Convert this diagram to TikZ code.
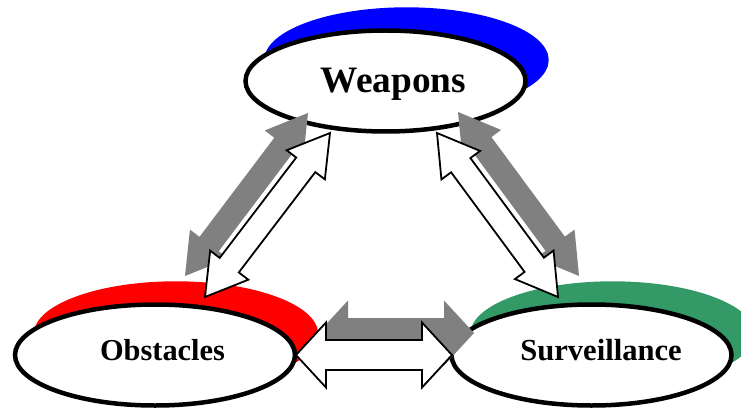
\documentclass[tikz,border=0pt]{standalone}
\usepackage{fontspec}
\setmainfont{Liberation Serif}
\usetikzlibrary{calc,shapes.geometric}
\definecolor{shblue}{RGB}{0,0,255}
\definecolor{shred}{RGB}{255,0,0}
\definecolor{shgreen}{RGB}{51,153,102}
\definecolor{arrgray}{RGB}{128,128,128}
% #1 start, #2 end, #3 head length, #4 head half width, #5 shaft half width, #6 style
\newcommand\dblarrow[6]{%
  \path[#6] let \p1=(#1), \p2=(#2),
    \n1={atan2(\y2-\y1,\x2-\x1)}, \n2={veclen(\x2-\x1,\y2-\y1)} in
    (\p1)
    -- ($(\p1)+(\n1:#3)+(\n1+90:#4)$)
    -- ($(\p1)+(\n1:#3)+(\n1+90:#5)$)
    -- ($(\p1)+(\n1:\n2-#3)+(\n1+90:#5)$)
    -- ($(\p1)+(\n1:\n2-#3)+(\n1+90:#4)$)
    -- (\p2)
    -- ($(\p1)+(\n1:\n2-#3)+(\n1-90:#4)$)
    -- ($(\p1)+(\n1:\n2-#3)+(\n1-90:#5)$)
    -- ($(\p1)+(\n1:#3)+(\n1-90:#5)$)
    -- ($(\p1)+(\n1:#3)+(\n1-90:#4)$)
    -- cycle;}
\begin{document}
\begin{tikzpicture}[x=1pt,y=1pt,
  oval/.style={ellipse, draw=black, line width=4.5pt, fill=white,
    minimum width=280pt, minimum height=101pt, inner sep=0pt},
  lbl/.style={inner sep=0pt, anchor=base, font=\bfseries},
  grayarr/.style={fill=arrgray},
  whitearr/.style={fill=white, draw=black, line width=1.8pt, line join=miter}]
\useasboundingbox (0,0) rectangle (741,413);
\clip (0,0) rectangle (741,413);
% centres
\coordinate (Wc) at (385.5,332);
\coordinate (Oc) at (155,58);
\coordinate (Sc) at (591.5,58);
% shadows
\fill[shblue]  ($(Wc)+(21,21)$) ellipse [x radius=142.2, y radius=52.7];
\fill[shred]   ($(Oc)+(21,21)$) ellipse [x radius=142.2, y radius=52.7];
\fill[shgreen] ($(Sc)+(21,21)$) ellipse [x radius=142.2, y radius=52.7];
% ellipses
\node[oval] (W) at (Wc) {};
\node[oval] (O) at (Oc) {};
\node[oval] (S) at (Sc) {};
\node[lbl, font=\bfseries\fontsize{37.3}{40}\selectfont] (Wt) at ($(W.center)+(8,-12)$) {Weapons};
\node[lbl, font=\bfseries\fontsize{30.4}{33}\selectfont] (Ot) at ($(O.center)+(7.5,-5)$) {Obstacles};
\node[lbl, font=\bfseries\fontsize{30.6}{33}\selectfont] (St) at ($(S.center)+(9.5,-5)$) {Surveillance};
% arrow end points
\coordinate (wl1) at (330,280); \coordinate (wl2) at (205,116);
\coordinate (gl1) at (308,300); \coordinate (gl2) at (185,137);
\coordinate (wr1) at (437,280); \coordinate (wr2) at (558,116);
\coordinate (gr1) at (458,301); \coordinate (gr2) at (579,137);
\coordinate (wh1) at (296,58);  \coordinate (wh2) at (452,58);
\coordinate (gh1) at (318,80);  \coordinate (gh2) at (474,80);
% gray shadow arrows
\dblarrow{gl1}{gl2}{40}{24}{12}{grayarr}
\dblarrow{gr1}{gr2}{40}{24}{12}{grayarr}
\dblarrow{gh1}{gh2}{30}{32.5}{15}{grayarr}
% white arrows
\dblarrow{wl1}{wl2}{40}{24}{12}{whitearr}
\dblarrow{wr1}{wr2}{40}{24}{12}{whitearr}
\dblarrow{wh1}{wh2}{30}{32.5}{15}{whitearr}
\end{tikzpicture}
\end{document}
